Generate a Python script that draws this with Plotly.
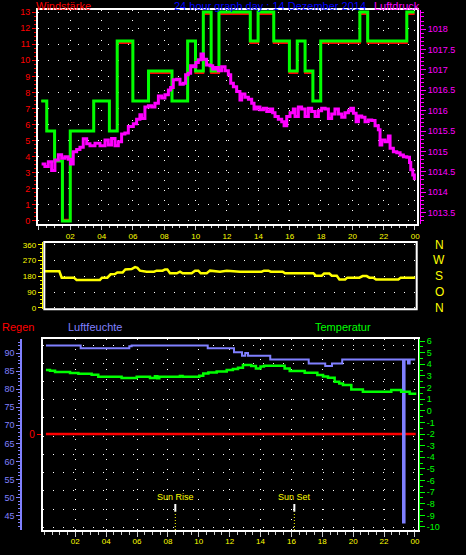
import plotly.graph_objects as go

# ---------------- data ----------------
hour_ticks = [2, 4, 6, 8, 10, 12, 14, 16, 18, 20, 22, 24]
hour_labels = ["02", "04", "06", "08", "10", "12", "14", "16", "18", "20", "22", "00"]

# wind (Windstärke) step values: gust (green) and mean (red)
wind_t = [0.15, 0.5, 1.0, 1.5, 2.0, 3.5, 4.5, 5.0, 6.0, 7.0, 8.5, 9.5, 10.0, 10.5,
          11.0, 11.5, 13.5, 14.0, 15.0, 16.0, 16.5, 17.0, 17.5, 18.0, 20.5, 21.0, 23.5, 24.0]
wind_gust = [7.46, 5.6, 3.73, 0, 5.6, 7.46, 5.6, 11.2, 7.46, 9.33, 7.46, 11.2, 9.33, 13.0,
             9.33, 13.0, 11.2, 13.0, 11.2, 9.33, 11.2, 9.33, 7.46, 11.2, 13.0, 11.2, 13.0, 13.0]
wind_mean = [7.46, 5.6, 3.73, 0.08, 5.6, 7.46, 5.6, 11.08, 7.46, 9.21, 7.46, 11.2, 9.21, 12.88,
             9.21, 12.88, 11.08, 12.88, 11.08, 9.21, 11.2, 9.21, 7.46, 11.08, 12.88, 11.08, 12.88, 12.88]
wind_ticks = list(range(0, 14))

# pressure (Luftdruck)
press_t = [0.17, 0.38, 0.60, 0.81, 1.02, 1.24, 1.45, 1.66, 1.87, 2.02, 2.19, 2.41, 2.62, 2.83,
           3.05, 3.26, 3.58, 3.90, 4.22, 4.43, 4.64, 4.86, 5.07, 5.28, 5.49, 5.71, 6.03, 6.24,
           6.45, 6.56, 6.77, 6.99, 7.20, 7.41, 7.63, 7.84, 8.05, 8.27, 8.41, 8.58, 8.80, 9.01,
           9.22, 9.37, 9.54, 9.69, 9.86, 10.03, 10.18, 10.35, 10.50, 10.71, 10.93, 11.10, 11.29,
           11.46, 11.67, 11.89, 12.10, 12.25, 12.42, 12.63, 12.84, 12.95, 13.16, 13.38, 13.59,
           13.74, 13.91, 14.12, 14.34, 14.55, 14.76, 14.93, 15.08, 15.29, 15.51, 15.66, 15.83,
           16.04, 16.25, 16.36, 16.57, 16.78, 17.00, 17.21, 17.42, 17.64, 17.85, 18.06, 18.28,
           18.49, 18.70, 18.91, 19.13, 19.34, 19.55, 19.77, 19.92, 20.09, 20.26, 20.41, 20.62,
           20.83, 21.04, 21.26, 21.47, 21.68, 21.79, 21.90, 22.11, 22.32, 22.43, 22.64, 22.86,
           23.07, 23.28, 23.50, 23.67, 23.75, 23.88, 23.98]
press_v = [1014.69, 1014.63, 1014.75, 1014.53, 1014.79, 1014.92, 1014.83, 1014.87, 1014.81,
           1014.69, 1014.99, 1015.05, 1015.10, 1015.31, 1015.19, 1015.14, 1015.20, 1015.14,
           1015.28, 1015.16, 1015.32, 1015.14, 1015.24, 1015.43, 1015.45, 1015.61, 1015.68,
           1015.79, 1015.90, 1015.81, 1016.09, 1016.12, 1016.09, 1016.18, 1016.36, 1016.31,
           1016.39, 1016.51, 1016.57, 1016.76, 1016.77, 1016.65, 1016.67, 1016.88, 1016.92,
           1017.10, 1017.08, 1017.18, 1017.25, 1017.39, 1017.26, 1017.12, 1017.10, 1017.02,
           1017.06, 1016.98, 1017.08, 1016.98, 1016.88, 1016.67, 1016.59, 1016.47, 1016.26,
           1016.41, 1016.33, 1016.28, 1016.18, 1016.04, 1016.09, 1016.02, 1016.06, 1015.98,
           1016.04, 1015.95, 1015.86, 1015.79, 1015.73, 1015.63, 1015.86, 1015.95, 1016.04,
           1015.86, 1016.09, 1016.04, 1015.86, 1016.06, 1015.98, 1015.86, 1016.00, 1016.06,
           1016.04, 1015.81, 1015.92, 1016.04, 1015.92, 1015.84, 1015.95, 1016.00, 1016.06,
           1015.94, 1015.73, 1015.87, 1015.84, 1015.73, 1015.77, 1015.76, 1015.63, 1015.53,
           1015.16, 1015.28, 1015.24, 1015.38, 1015.08, 1014.99, 1014.97, 1014.91, 1014.87,
           1014.86, 1014.73, 1014.55, 1014.42, 1014.30]
press_ticks = [1013.5, 1014, 1014.5, 1015, 1015.5, 1016, 1016.5, 1017, 1017.5, 1018]

# wind direction (degrees)
dir_t = [0.38, 1.30, 1.45, 2.23, 2.40, 3.89, 4.02, 4.36, 4.57, 4.85, 5.0, 5.34, 5.51, 5.91,
         6.13, 6.28, 6.44, 6.87, 7.34, 7.51, 7.89, 8.04, 8.19, 8.36, 8.79, 9.0, 9.17, 9.74,
         9.96, 10.17, 10.32, 10.70, 10.91, 11.23, 11.55, 11.98, 12.83, 14.21, 14.36, 14.64,
         14.79, 15.55, 15.70, 17.51, 17.66, 18.04, 18.19, 18.53, 18.68, 19.0, 19.17, 19.53,
         19.68, 20.44, 20.65, 20.91, 21.08, 21.34, 21.51, 22.93, 23.08, 24.0]
dir_v = [208, 208, 172, 172, 159, 159, 172, 172, 191, 193, 202, 202, 219, 221,
         232, 228, 212, 206, 206, 212, 212, 219, 219, 197, 197, 206, 197, 197,
         212, 212, 197, 197, 212, 208, 206, 212, 206, 206, 212, 212,
         206, 206, 197, 197, 183, 183, 195, 195, 183, 183, 161, 161,
         172, 172, 181, 181, 172, 172, 161, 161, 172, 172]
dir_ticks = [0, 90, 180, 270, 360]
dir_compass = ["N", "O", "S", "W", "N"]

# humidity (Luftfeuchte, %)
hum_t = [0.10, 2.35, 5.50, 5.65, 10.58, 12.28, 12.80, 13.01, 13.19, 14.63, 17.12, 18.19,
         18.63, 19.29, 23.23, 23.33, 23.55, 23.66, 24.02]
hum_v = [92.1, 91.3, 91.9, 92.1, 91.3, 90.2, 89.25, 90.0, 89.25, 88.24, 87.13, 86.4,
         87.13, 88.24, 43.1, 88.24, 87.13, 88.24, 88.24]
hum_ticks = [45, 50, 55, 60, 65, 70, 75, 80, 85, 90]

# temperature (°C)
temp_t = [0.10, 0.36, 0.69, 1.66, 2.20, 3.06, 3.49, 5.0, 5.98, 6.84, 7.16, 7.31, 7.44, 8.78,
          8.95, 10.03, 10.29, 10.62, 11.16, 11.81, 12.21, 12.54, 12.86, 13.40, 13.70, 14.0,
          14.22, 15.56, 15.89, 16.86, 17.68, 18.05, 18.37, 18.80, 19.1, 19.34, 19.88, 20.63,
          22.47, 23.11, 23.66, 24.09]
temp_v = [3.51, 3.45, 3.33, 3.25, 3.19, 3.10, 2.93, 2.82, 2.93, 2.82, 2.96, 2.79, 2.93, 2.99,
          2.93, 3.02, 3.2, 3.3, 3.37, 3.51, 3.6, 3.71, 3.94, 3.85, 3.63, 3.80,
          3.88, 3.63, 3.42, 3.28, 3.08, 2.95, 2.85, 2.5, 2.35, 2.21, 1.84, 1.64,
          1.78, 1.64, 1.47, 1.47]
temp_ticks = list(range(-10, 7))

# rain (Regen)
rain_t = [0.10, 24.05]
rain_v = [0, 0]
rain_ticks = [0]

sunrise = 8.48
sunset = 16.19

# ---------------- styling helpers ----------------
W, H = 466, 555
FONT = "Liberation Sans"
GRIDDASH = "1px,9px"


def fx(p):
    return p / W


def fy(p):
    return 1 - p / H


RED, GREEN, MAG, YEL, HUM = "#ff0000", "#00ff00", "#ff00ff", "#ffff00", "#8080ff"

top_dom = [fy(224), fy(10)]
mid_dom = [fy(309.3), fy(242)]
bot_dom = [fy(530), fy(339.3)]
DIR_RANGE = [-8.6, 375.4]

# rain axis range: 0 sits at pixel row 434 of the bottom panel
RAIN_RANGE = [-1.0068, 0.9932]
# horizontal dotted grid rows of the bottom panel (evenly spaced rows, in rain-axis units)
bot_grid = [-0.9785 + 0.19119 * k for k in range(11)]

fig = go.Figure()

# top panel
fig.add_trace(go.Scatter(x=wind_t, y=wind_mean, mode="lines", line=dict(color=RED, width=2, shape="hv"),
                         xaxis="x", yaxis="y", hoverinfo="skip"))
fig.add_trace(go.Scatter(x=wind_t, y=wind_gust, mode="lines", line=dict(color=GREEN, width=3, shape="hv"),
                         xaxis="x", yaxis="y", hoverinfo="skip"))
fig.add_trace(go.Scatter(x=press_t, y=press_v, mode="lines", line=dict(color=MAG, width=3, shape="hv"),
                         xaxis="x", yaxis="y2", hoverinfo="skip"))
# middle panel
fig.add_trace(go.Scatter(x=dir_t, y=dir_v, mode="lines", line=dict(color=YEL, width=2.5),
                         xaxis="x2", yaxis="y3", hoverinfo="skip"))
# bottom panel
fig.add_trace(go.Scatter(x=rain_t, y=rain_v, mode="lines", line=dict(color=RED, width=2.5),
                         xaxis="x3", yaxis="y6", hoverinfo="skip"))
fig.add_trace(go.Scatter(x=temp_t, y=temp_v, mode="lines", line=dict(color=GREEN, width=2.5, shape="hv"),
                         xaxis="x3", yaxis="y8", hoverinfo="skip"))
fig.add_trace(go.Scatter(x=hum_t, y=hum_v, mode="lines", line=dict(color=HUM, width=2, shape="hv"),
                         xaxis="x3", yaxis="y7", hoverinfo="skip"))

border = dict(showline=True, mirror=True, linecolor="white", linewidth=2, zeroline=False, automargin=False)
free = dict(anchor="free", showgrid=False, zeroline=False, automargin=False)
tf = lambda c, s=8: dict(color=c, size=s, family=FONT)

layout = dict(
    width=W, height=H, autosize=False,
    margin=dict(l=0, r=0, t=0, b=0),
    paper_bgcolor="black", plot_bgcolor="rgba(0,0,0,0)",
    showlegend=False,
    font=dict(family=FONT, color="white"),
    # ---- top panel ----
    xaxis=dict(domain=[fx(38), fx(417)], range=[-0.06, 24.15], anchor="y", **border,
               showgrid=True, gridcolor="white", griddash=GRIDDASH, gridwidth=1,
               tickvals=[0] + hour_ticks, showticklabels=False, ticks="outside", ticklen=4,
               tickcolor="#cccccc",
               minor=dict(dtick=0.5, tick0=0, ticks="outside", ticklen=2, tickcolor="#cccccc", showgrid=False)),
    yaxis=dict(domain=top_dom, range=[-0.19, 13.13], anchor="x", **border,
               showgrid=True, gridcolor="white", griddash=GRIDDASH, gridwidth=1,
               tickvals=wind_ticks, ticks="outside", ticklen=4, tickcolor=RED, tickfont=tf(RED, 9),
               minor=dict(dtick=0.25, tick0=0, ticks="outside", ticklen=2, tickcolor=RED, showgrid=False)),
    yaxis2=dict(overlaying="y", domain=top_dom, position=fx(420), side="right", range=[1013.22, 1018.47],
                showline=True, linecolor=MAG, linewidth=1, **free,
                tickvals=press_ticks, ticktext=[f"{v:g}" for v in press_ticks],
                ticks="outside", ticklen=5, tickcolor=MAG, tickfont=tf(MAG, 9),
                minor=dict(dtick=0.1, tick0=1013.5, ticks="outside", ticklen=3, tickcolor=MAG, showgrid=False)),
    # ---- middle panel ----
    xaxis2=dict(domain=[fx(44.3), fx(416.7)], range=[0.34, 24.1], anchor="y3", side="top",
                showline=False, zeroline=False, automargin=False,
                showgrid=False, tickvals=hour_ticks, ticktext=hour_labels, ticks="",
                tickfont=tf(YEL, 8)),
    yaxis3=dict(domain=mid_dom, range=DIR_RANGE, anchor="free", position=fx(41.7), side="left",
                showline=True, linecolor=YEL, linewidth=1, zeroline=False, automargin=False,
                showgrid=True, gridcolor="white", griddash=GRIDDASH, gridwidth=1,
                tickvals=dir_ticks, ticks="outside", ticklen=4, tickcolor=YEL, tickfont=tf(YEL, 8),
                minor=dict(dtick=22.5, tick0=0, ticks="outside", ticklen=2, tickcolor=YEL, showgrid=False)),
    # ---- bottom panel ----
    xaxis3=dict(domain=[fx(42.7), fx(418)], range=[-0.11, 24.2], anchor="y6", **border,
                showgrid=True, gridcolor="white", griddash=GRIDDASH, gridwidth=1,
                tickvals=hour_ticks, ticktext=hour_labels, ticks="outside", ticklen=5, tickcolor="#cccccc",
                tickfont=tf(YEL, 8), ticklabelstandoff=-3,
                minor=dict(dtick=0.5, tick0=0, ticks="outside", ticklen=3, tickcolor="#cccccc", showgrid=False)),
    yaxis6=dict(domain=bot_dom, range=RAIN_RANGE, anchor="x3", **border,
                showgrid=False, tickvals=rain_ticks, ticktext=[str(v) for v in rain_ticks],
                ticks="outside", ticklen=4, tickcolor=RED, tickfont=tf(RED, 10),
                minor=dict(tickvals=bot_grid, ticks="", showgrid=True, gridcolor="white",
                           griddash=GRIDDASH, gridwidth=1)),
    yaxis7=dict(overlaying="y6", domain=bot_dom, position=fx(21.3), side="left", range=[41.04, 93.8],
                showline=True, linecolor=HUM, linewidth=2, **free,
                tickvals=hum_ticks, ticks="outside", ticklen=4, tickcolor=HUM, tickfont=tf(HUM, 9),
                minor=dict(dtick=1, tick0=45, ticks="outside", ticklen=2, tickcolor=HUM, showgrid=False)),
    yaxis8=dict(overlaying="y6", domain=bot_dom, position=fx(419), side="right", range=[-10.26, 6.15],
                showline=True, linecolor=GREEN, linewidth=1, **free,
                tickvals=temp_ticks, ticktext=[str(v) for v in temp_ticks],
                ticks="outside", ticklen=5, tickcolor=GREEN, tickfont=tf(GREEN, 9),
                minor=dict(dtick=0.5, tick0=0, ticks="outside", ticklen=3, tickcolor=GREEN, showgrid=False)),
)
fig.update_layout(**layout)

# white frame of the wind-direction panel
fig.add_shape(type="rect", xref="x2 domain", yref="y3 domain", x0=0, x1=1, y0=0, y1=1,
              line=dict(color="white", width=2))

# compass letters beside the wind-direction panel
for v, letter in zip(dir_ticks, dir_compass):
    fig.add_annotation(x=fx(439), y=v, xref="paper", yref="y3", text=letter, showarrow=False,
                       xanchor="center", yanchor="middle", font=tf(YEL, 12))

# sun rise / sun set markers
for t, label in [(sunrise, "Sun Rise"), (sunset, "Sun Set")]:
    fig.add_shape(type="line", xref="x3", yref="paper", x0=t, x1=t, y0=fy(511.7), y1=fy(504),
                  line=dict(color="white", width=2))
    fig.add_shape(type="line", xref="x3", yref="paper", x0=t, x1=t, y0=fy(530), y1=fy(511.7),
                  line=dict(color=YEL, width=1, dash="1px,2px"))
    fig.add_annotation(x=t, y=fy(497), xref="x3", yref="paper", text=label, showarrow=False,
                       xanchor="center", yanchor="middle", font=tf(YEL, 9))

# header and panel titles
titles = [
    ("Windstärke", 34, 5.5, RED),
    ("24 hour graph day : 14 Dezember 2014", 172, 5.5, "#0000ff"),
    ("Luftdruck", 372, 5.5, MAG),
    ("Regen", 0, 327, RED),
    ("Luftfeuchte", 66, 327, HUM),
    ("Temperatur", 313, 327, GREEN),
]
for text, x, y, c in titles:
    fig.add_annotation(x=fx(x), y=fy(y), xref="paper", yref="paper", text=text, showarrow=False,
                       xanchor="left", yanchor="middle", font=dict(family=FONT, size=11, color=c))

fig.write_html("out.html", config={"displayModeBar": False},
               post_script="document.body.style.margin='0';document.body.style.background='black';"
                           "document.body.style.overflow='hidden';")
